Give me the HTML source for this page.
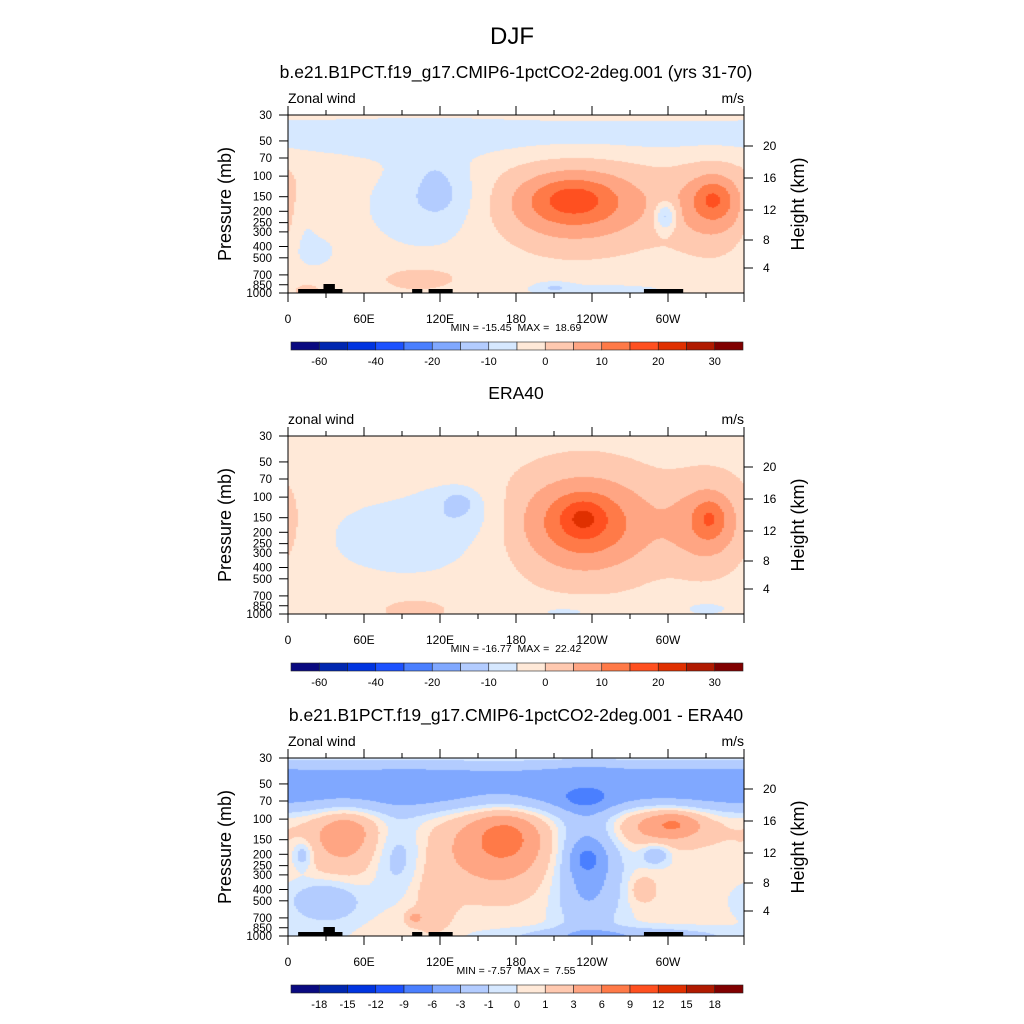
<!DOCTYPE html>
<html><head><meta charset="utf-8">
<style>
html,body{margin:0;padding:0;background:#fff;}
#wrap{position:relative;width:1024px;height:1024px;overflow:hidden;font-family:"Liberation Sans",sans-serif;}
canvas{position:absolute;}
svg{position:absolute;left:0;top:0;}
text{white-space:pre;}
</style></head>
<body>
<div id="wrap">
<canvas id="c0" width="456" height="178" style="left:288px;top:115px"></canvas>
<canvas id="c1" width="456" height="178" style="left:288px;top:436px"></canvas>
<canvas id="c2" width="456" height="178" style="left:288px;top:758px"></canvas>
<svg id="ov" width="1024" height="1024">
<text x="512" y="44" font-size="24" text-anchor="middle">DJF</text>
</svg>
</div>
<script>
// ---- data ----
const colors=["#0a0a80","#0027b0","#0034e0","#1c52ff","#4a7fff","#80a8ff","#b3ccff","#d6e8ff","#ffe9d8","#ffc9b0","#ffa583","#ff7a48","#ff5020","#e03000","#b01a00","#800000"];
const levelsAbs=[-60,-50,-40,-30,-20,-15,-10,-5,0,5,10,15,20,25,30];
const labelsAbs=["-60","-40","-20","-10","0","10","20","30"];
const levelsDiff=[-18,-15,-12,-9,-6,-3,-1,0,1,3,6,9,12,15,18];
const labelsDiff=["-18","-15","-12","-9","-6","-3","-1","0","1","3","6","9","12","15","18"];
const xTickLabels=["0","60E","120E","180","120W","60W"];
const pTicks=[30,50,70,100,150,200,250,300,400,500,700,850,1000];
const hTicks=["20","16","12","8","4"];
// blobs: lon, pressure, amplitude, lon-width(deg), logp-width
const base=[-2,-2,0.3];
const b0Lon=[180,110,120,116,12,20,105,15,250,210,225,225,336,336,298];
const b0P  =[45,180,140,110,220,450,750,950,950,900,175,155,180,155,220];
const b0Amp=[-5,-5,-6,-4,-4,-4,5,5,-4,-6,15,6,11,7,-14];
const b0SL =[2000,45,18,5,8,15,25,8,60,10,45,20,22,10,6];
const b0SP =[0.3,0.8,0.4,0.15,0.4,0.3,0.2,0.1,0.15,0.08,0.55,0.25,0.55,0.25,0.2];

const b1Lon=[95,135,135,233,233,333,333,220,330,100];
const b1P  =[220,130,110,170,150,170,150,950,900,900];
const b1Amp=[-5,-5,-5,17,7.5,12,6,-4,-4,4];
const b1SL =[60,20,8,40,12,22,8,30,20,25];
const b1SP =[0.7,0.35,0.15,0.7,0.25,0.6,0.25,0.15,0.15,0.2];

const b2Lon=[180,180,45,45,295,305,237,236,234,290,12,115,100,260,280,165,172,85,30];
const b2P  =[60,38,150,120,110,110,250,220,65,200,200,500,700,1000,400,170,140,200,500];
const b2Amp=[-4.5,-2,3.5,1.5,4,3,-4.5,-3.5,-3.5,-3,-3,1.5,3,-3,2,5,3,-2.5,-3];
const b2SL =[2000,2000,25,12,30,12,18,8,10,8,6,12,5,60,8,30,15,15,20];
const b2SP =[0.3,0.15,0.5,0.2,0.3,0.15,0.9,0.2,0.12,0.15,0.2,0.6,0.1,0.12,0.2,0.6,0.3,0.5,0.3];
// ---- geometry ----
const PL=288,PW=456,PH=178,tops=[115,436,758];
const lnR=Math.log(1000/30);
function xOf(lon){return lon/360*PW;}
function yOf(p){return PH-Math.log(1000/p)/lnR*PH;}
function field(k,lon,p){
  const L=[b0Lon,b1Lon,b2Lon][k],P=[b0P,b1P,b2P][k],A=[b0Amp,b1Amp,b2Amp][k],S=[b0SL,b1SL,b2SL][k],Q=[b0SP,b1SP,b2SP][k];
  let v=base[k];
  for(let i=0;i<L.length;i++){
    let d=Math.abs(lon-L[i]);d=Math.min(d,360-d);
    const e=Math.log(p/P[i]);
    v+=A[i]*Math.exp(-(d*d)/(2*S[i]*S[i])-(e*e)/(2*Q[i]*Q[i]));
  }
  return v;
}
function idx(v,lev){let n=0;for(const l of lev)if(v>=l)n++;return n;}
[0,1,2].forEach(k=>{
  const cv=document.getElementById('c'+k),ctx=cv.getContext('2d');
  const lev=k==2?levelsDiff:levelsAbs;
  for(let y=0;y<PH;y++){
    const p=1000*Math.exp(-(PH-y-0.5)/PH*lnR);
    for(let x=0;x<PW;x+=2){
      const lon=(x+1)/PW*360;
      ctx.fillStyle=colors[idx(field(k,lon,p),lev)];
      ctx.fillRect(x,y,2,1);
    }
  }
});
// ---- overlay ----
const NS="http://www.w3.org/2000/svg",ov=document.getElementById('ov');
function el(tag,at,txt){const e=document.createElementNS(NS,tag);for(const a in at)e.setAttribute(a,at[a]);if(txt!==undefined)e.textContent=txt;ov.appendChild(e);return e;}
const titles=["b.e21.B1PCT.f19_g17.CMIP6-1pctCO2-2deg.001 (yrs 31-70)","ERA40","b.e21.B1PCT.f19_g17.CMIP6-1pctCO2-2deg.001 - ERA40"];
const leftLab=["Zonal wind","zonal wind","Zonal wind"];
const minmax=["MIN = -15.45  MAX =  18.69","MIN = -16.77  MAX =  22.42","MIN = -7.57  MAX =  7.55"];
const hOff=[31,63,95,125,153];
const land=[[8,43,4],[28,37,9],[98,106,4],[111,130,4],[281,312,4]];
[0,1,2].forEach(k=>{
  const T=tops[k];
  let t=el('text',{x:516,y:T-37,'font-size':17.5,'text-anchor':'middle'},titles[k]);
  
  t=el('text',{x:PL,y:T-12,'font-size':14},leftLab[k]);
  
  t=el('text',{x:PL+PW,y:T-12,'font-size':14,'text-anchor':'end'},"m/s");
  
  if(k!=1){land.forEach(r=>{const b=el('rect',{x:PL+xOf(r[0]),y:T+PH-r[2],width:xOf(r[1]-r[0]),height:r[2],fill:'#000'});
    });}
  const fr=el('rect',{x:PL,y:T,width:PW,height:PH,fill:'none',stroke:'#000','stroke-width':1});
  
  for(let i=0;i<=12;i++){const x=PL+xOf(i*30),len=i%2?5:9;
    el('line',{x1:x,x2:x,y1:T+PH,y2:T+PH+len,stroke:'#000'});
    el('line',{x1:x,x2:x,y1:T,y2:T-len,stroke:'#000'});}
  xTickLabels.forEach((s,i)=>{const a=el('text',{x:PL+xOf(i*60),y:T+PH+30,'font-size':12,'text-anchor':'middle'},s);
    });
  pTicks.forEach(p=>{const y=T+yOf(p);el('line',{x1:PL,x2:PL-9,y1:y,y2:y,stroke:'#000'});
    const a=el('text',{x:PL-16,y:y+4,'font-size':11.5,'text-anchor':'end'},String(p));
    });
  hTicks.forEach((s,i)=>{const y=T+hOff[i];el('line',{x1:PL+PW,x2:PL+PW+9,y1:y,y2:y,stroke:'#000'});
    const a=el('text',{x:PL+PW+19,y:y+4,'font-size':12},s);
    });
  t=el('text',{x:0,y:0,'font-size':18,'text-anchor':'middle',transform:`translate(231,${T+89}) rotate(-90)`},"Pressure (mb)");
  
  t=el('text',{x:0,y:0,'font-size':18,'text-anchor':'middle',transform:`translate(804,${T+89}) rotate(-90)`},"Height (km)");
  
  t=el('text',{x:516,y:T+PH+38,'font-size':10.5,'text-anchor':'middle'},minmax[k]);
  
  // colorbar
  const cy=T+227,cx=291,cw=452/16;
  colors.forEach((c,i)=>{const r=el('rect',{x:cx+i*cw,y:cy,width:cw,height:8,fill:c,stroke:'#222','stroke-width':0.6});
    });
  const labs=k==2?labelsDiff:labelsAbs,step=k==2?1:2;
  labs.forEach((s,i)=>{const a=el('text',{x:cx+(1+i*step)*cw,y:cy+23,'font-size':11,'text-anchor':'middle'},s);
    });
});
</script>
</body></html>
